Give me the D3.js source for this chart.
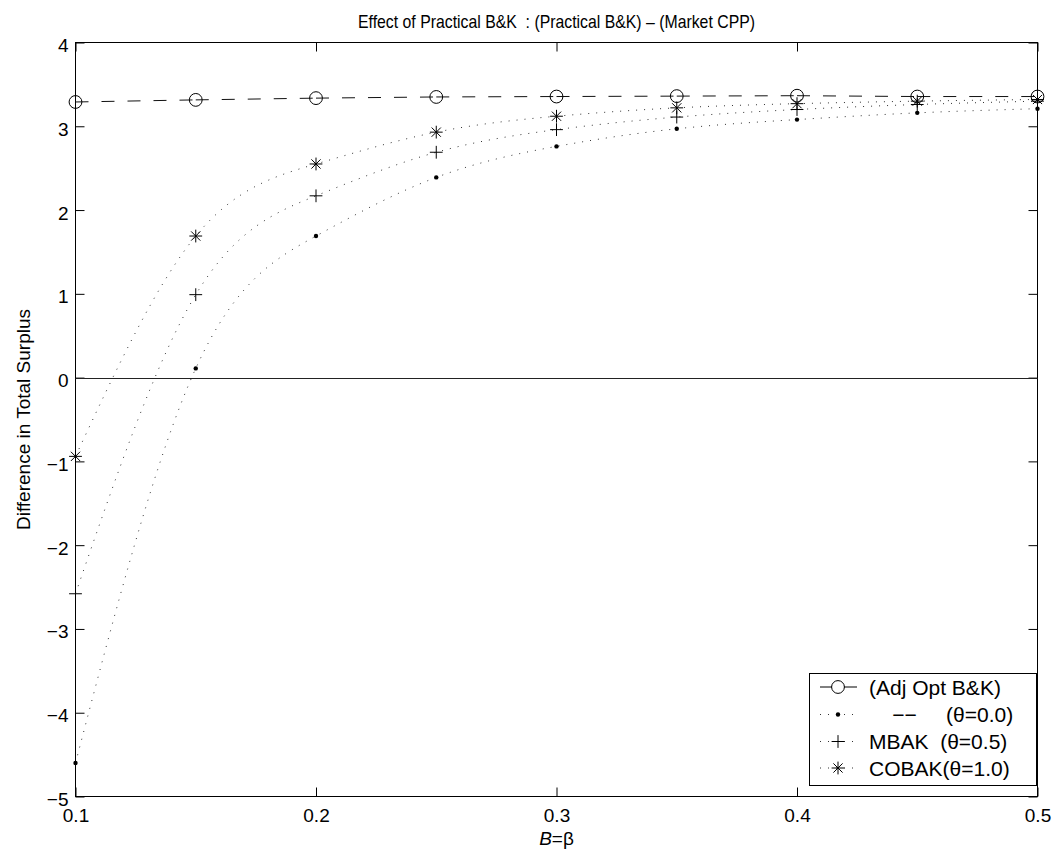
<!DOCTYPE html>
<html>
<head>
<meta charset="utf-8">
<script src="https://cdn.jsdelivr.net/npm/d3@7"></script>
<style>
  body { margin: 0; background: #fff; }
  text { font-family: "Liberation Sans", Arial, Helvetica, sans-serif; fill: #000; }
</style>
</head>
<body>
<svg id="chart" width="1059" height="856"></svg>
<script>
// values
var betaValues = [0.1, 0.15, 0.2, 0.25, 0.3, 0.35, 0.4, 0.45, 0.5];
var adjOptBK  = [3.29, 3.315, 3.336, 3.35, 3.355, 3.36, 3.365, 3.355, 3.355];
var theta00   = [-4.60, 0.11, 1.69, 2.39, 2.76, 2.97, 3.08, 3.16, 3.21];
var theta05   = [-2.58, 0.99, 2.17, 2.69, 2.96, 3.11, 3.20, 3.26, 3.30];
var theta10   = [-0.94, 1.69, 2.55, 2.93, 3.12, 3.22, 3.27, 3.30, 3.32];

var xTicks = [0.1, 0.2, 0.3, 0.4, 0.5];
var yTicks = [-5, -4, -3, -2, -1, 0, 1, 2, 3, 4];

var legendLabels = ["(Adj Opt B&K)", "    \u2212\u2212     (\u03b8=0.0)", "MBAK  (\u03b8=0.5)", "COBAK(\u03b8=1.0)"];
var legendMarkers = ["circle", "dot", "plus", "star"];

var titleText = "Effect of Practical B&K  : (Practical B&K) \u2013 (Market CPP)";
var yLabelText = "Difference in Total Surplus";

var svg = d3.select("#chart");
// note: "top" is taken by window.top, so use plot* names
var plotLeft = 75.5, plotRight = 1037.5, plotTop = 42.5, plotBottom = 796.5;

var x = d3.scaleLinear().domain([0.1, 0.5]).range([plotLeft, plotRight]);
var y = d3.scaleLinear().domain([-5, 4]).range([plotBottom, plotTop]);

// box and ticks (MATLAB style, ticks inside on all four sides)
var tickLen = 9;
svg.append("g")
  .attr("transform", "translate(0," + plotBottom + ")")
  .call(d3.axisBottom(x).tickValues(xTicks).tickSizeInner(-tickLen).tickSizeOuter(0).tickFormat(d3.format(".1f")))
  .call(function(g) {
    g.select(".domain").remove();
    g.selectAll("text").attr("font-size", 19).attr("dy", 0).attr("y", 25.5);
  });
svg.append("g")
  .attr("transform", "translate(0," + plotTop + ")")
  .call(d3.axisTop(x).tickValues(xTicks).tickSizeInner(-tickLen).tickSizeOuter(0).tickFormat(""))
  .call(function(g) { g.select(".domain").remove(); });
svg.append("g")
  .attr("transform", "translate(" + plotLeft + ",0)")
  .call(d3.axisLeft(y).tickValues(yTicks).tickSizeInner(-tickLen).tickSizeOuter(0).tickFormat(d3.format("d")))
  .call(function(g) {
    g.select(".domain").remove();
    g.selectAll("text").attr("font-size", 19).attr("x", -7).attr("dy", 0).attr("y", 9);
  });
svg.append("g")
  .attr("transform", "translate(" + plotRight + ",0)")
  .call(d3.axisRight(y).tickValues(yTicks).tickSizeInner(-tickLen).tickSizeOuter(0).tickFormat(""))
  .call(function(g) { g.select(".domain").remove(); });

svg.selectAll(".tick line").attr("stroke", "#000");

svg.append("rect")
  .attr("x", plotLeft).attr("y", plotTop)
  .attr("width", plotRight - plotLeft).attr("height", plotBottom - plotTop)
  .attr("fill", "none").attr("stroke", "#000").attr("stroke-width", 1);

// zero line
svg.append("line")
  .attr("x1", plotLeft).attr("x2", plotRight)
  .attr("y1", Math.round(y(0)) + 0.5).attr("y2", Math.round(y(0)) + 0.5)
  .attr("stroke", "#222").attr("stroke-width", 1);

// dotted curves for the three theta series
var curve = d3.line()
  .x(function(d) { return x(d[0]); })
  .y(function(d) { return y(d[1]); })
  .curve(d3.curveNatural);

var thetaSeries = [
  { values: theta00, marker: "dot" },
  { values: theta05, marker: "plus" },
  { values: theta10, marker: "star" }
];

thetaSeries.forEach(function(s) {
  var pts = betaValues.map(function(b, i) { return [b, s.values[i]]; });
  svg.append("path")
    .attr("d", curve(pts))
    .attr("fill", "none")
    .attr("stroke", "#333")
    .attr("stroke-width", 1)
    .attr("stroke-dasharray", "1,7");
});

// dashed line for Adj Opt B&K, one path per segment
var straight = d3.line()
  .x(function(d) { return x(d[0]); })
  .y(function(d) { return y(d[1]); });
var adjPts = betaValues.map(function(b, i) { return [b, adjOptBK[i]]; });
d3.pairs(adjPts).forEach(function(p) {
  svg.append("path")
    .attr("d", straight(p))
    .attr("fill", "none")
    .attr("stroke", "#111")
    .attr("stroke-width", 1)
    .attr("stroke-dasharray", "13,13");
});

// marker drawing
function drawMarker(g, kind, cx, cy) {
  var r = 6.4;
  if (kind == "circle") {
    g.append("circle").attr("cx", cx).attr("cy", cy).attr("r", r)
      .attr("fill", "none").attr("stroke", "#000").attr("stroke-width", 1);
  } else if (kind == "dot") {
    g.append("circle").attr("cx", cx).attr("cy", cy).attr("r", 2.2).attr("fill", "#000");
  } else if (kind == "plus") {
    g.append("path")
      .attr("d", "M" + (cx - r) + "," + cy + "H" + (cx + r) + "M" + cx + "," + (cy - r) + "V" + (cy + r))
      .attr("stroke", "#000").attr("stroke-width", 1).attr("fill", "none");
  } else if (kind == "star") {
    var d = r * 0.72;
    g.append("path")
      .attr("d", "M" + (cx - r) + "," + cy + "H" + (cx + r) +
                 "M" + cx + "," + (cy - r) + "V" + (cy + r) +
                 "M" + (cx - d) + "," + (cy - d) + "L" + (cx + d) + "," + (cy + d) +
                 "M" + (cx - d) + "," + (cy + d) + "L" + (cx + d) + "," + (cy - d))
      .attr("stroke", "#000").attr("stroke-width", 1).attr("fill", "none");
  }
}

var markerLayer = svg.append("g");
betaValues.forEach(function(b, i) {
  drawMarker(markerLayer, "circle", x(b), y(adjOptBK[i]));
});
thetaSeries.forEach(function(s) {
  betaValues.forEach(function(b, i) {
    drawMarker(markerLayer, s.marker, x(b), y(s.values[i]));
  });
});

// title and axis labels
svg.append("text")
  .attr("x", (plotLeft + plotRight) / 2).attr("y", 28)
  .attr("text-anchor", "middle").attr("font-size", 18.5)
  .attr("textLength", 397).attr("lengthAdjust", "spacingAndGlyphs")
  .style("white-space", "pre")
  .text(titleText);

var xl = svg.append("text")
  .attr("x", (plotLeft + plotRight) / 2).attr("y", 845)
  .attr("text-anchor", "middle").attr("font-size", 19);
xl.append("tspan").attr("font-style", "italic").text("B");
xl.append("tspan").text("=\u03b2");

svg.append("text")
  .attr("transform", "translate(30," + ((plotTop + plotBottom) / 2) + ") rotate(-90)")
  .attr("text-anchor", "middle").attr("font-size", 19)
  .text(yLabelText);

// legend
var legend = svg.append("g");
legend.append("rect")
  .attr("x", 809.5).attr("y", 673.5).attr("width", 227).attr("height", 112)
  .attr("fill", "#fff").attr("stroke", "#000").attr("stroke-width", 1);

var rowY = [687, 714.5, 741.5, 768];
legendLabels.forEach(function(label, i) {
  var ry = rowY[i];
  if (legendMarkers[i] == "circle") {
    legend.append("path").attr("d", "M820," + ry + "H832M844," + ry + "H857")
      .attr("stroke", "#000").attr("stroke-width", 1);
  } else {
    legend.append("line").attr("x1", 820).attr("x2", 857).attr("y1", ry).attr("y2", ry)
      .attr("stroke", "#333").attr("stroke-width", 1).attr("stroke-dasharray", "1,7");
  }
  drawMarker(legend, legendMarkers[i], 838, ry);
  legend.append("text")
    .attr("x", 869).attr("y", ry + 7.5)
    .attr("font-size", 21)
    .style("white-space", "pre")
    .text(label);
});
</script>
</body>
</html>
